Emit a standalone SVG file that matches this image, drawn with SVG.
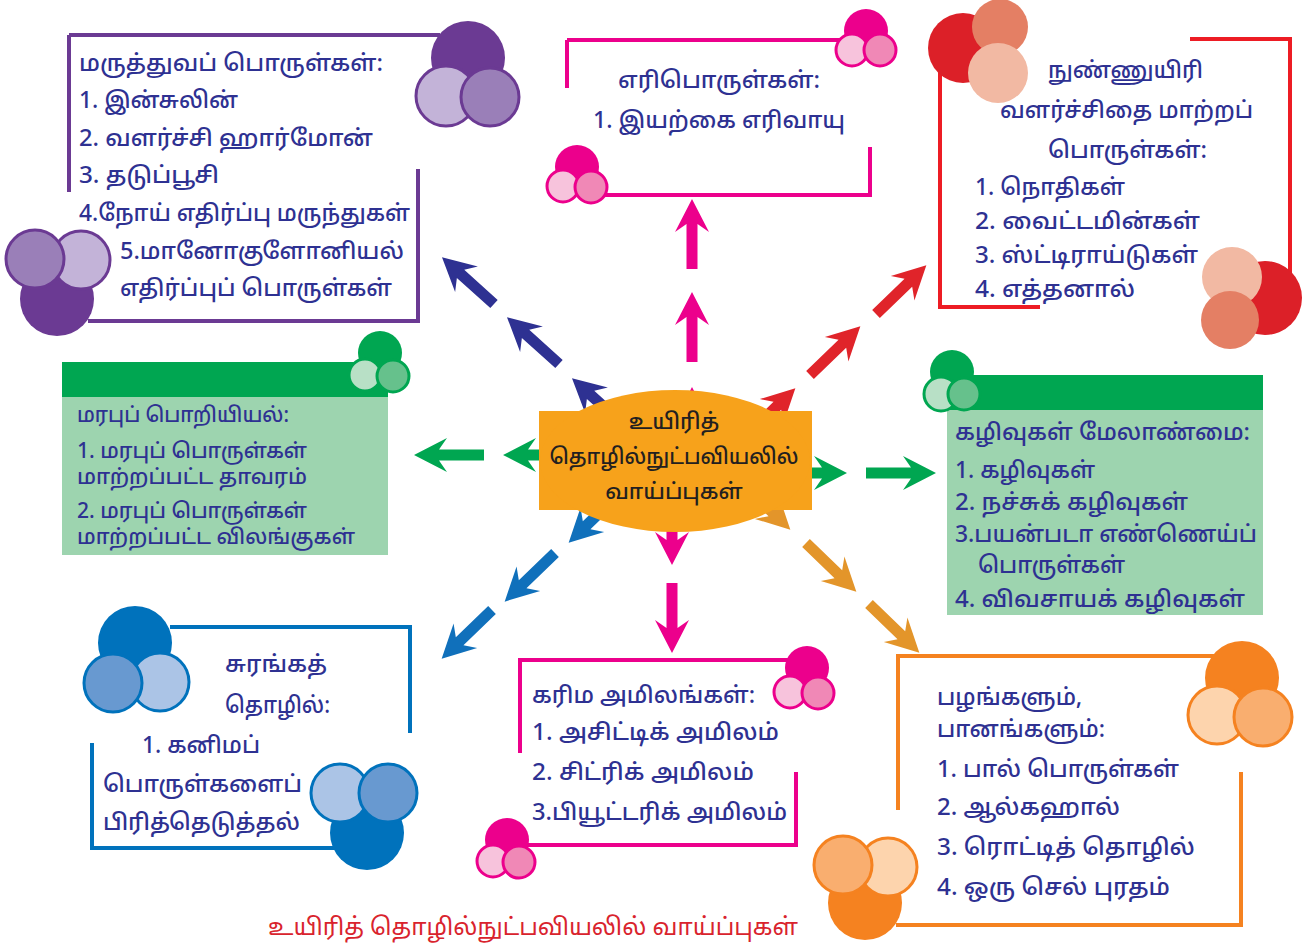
<svg xmlns="http://www.w3.org/2000/svg" width="1314" height="945" viewBox="0 0 1314 945">
<defs>
<style>
.t{font-family:"Noto Sans Tamil","Lohit Tamil","Noto Sans","DejaVu Sans",sans-serif;font-size:23px;font-weight:500;fill:#2e3192;}
.s{font-size:21px;}
.c{font-family:"Noto Sans Tamil","Lohit Tamil","Noto Sans","DejaVu Sans",sans-serif;font-size:22px;font-weight:500;fill:#231f20;text-anchor:middle;}
.cap{font-family:"Noto Sans Tamil","Lohit Tamil","Noto Sans","DejaVu Sans",sans-serif;font-size:24px;fill:#d9232d;}
.fr{fill:none;stroke-width:4;stroke-linecap:butt;}
.pu{stroke:#6b3a93}.pk{stroke:#ec008c}.rd{stroke:#ed1c24}.bl{stroke:#0072bc}.or{stroke:#f58220}
.cs{stroke-width:3}
</style>
<path id="arr" d="M0,-5.5 H45 L37,-17 L70,0 L37,17 L45,5.5 H0 Z"/>
</defs>
<rect width="1314" height="945" fill="#ffffff"/>

<g id="connectors">
<g fill="#ec008c">
<use href="#arr" transform="translate(692,269) rotate(-90)"/>
<use href="#arr" transform="translate(692,362) rotate(-90)"/>
<use href="#arr" transform="translate(692,457) rotate(-90)"/>
<use href="#arr" transform="translate(672,495) rotate(90)"/>
<use href="#arr" transform="translate(672,583) rotate(90)"/>
</g>
<g fill="#00a651">
<use href="#arr" transform="translate(484,455) rotate(180)"/>
<use href="#arr" transform="translate(573,455) rotate(180)"/>
<use href="#arr" transform="translate(777,473)"/>
<use href="#arr" transform="translate(866,473)"/>
</g>
<g fill="#2e3192">
<use href="#arr" transform="translate(494,304) rotate(-138)"/>
<use href="#arr" transform="translate(559,364) rotate(-138)"/>
<use href="#arr" transform="translate(624,425) rotate(-138)"/>
</g>
<g fill="#e0242a">
<use href="#arr" transform="translate(876,314) rotate(-44)"/>
<use href="#arr" transform="translate(810,375) rotate(-44)"/>
<use href="#arr" transform="translate(745,437) rotate(-44)"/>
</g>
<g fill="#1070bb">
<use href="#arr" transform="translate(619,494) rotate(136)"/>
<use href="#arr" transform="translate(555,553) rotate(136)"/>
<use href="#arr" transform="translate(492,610) rotate(136)"/>
</g>
<g fill="#e3952a">
<use href="#arr" transform="translate(740,481) rotate(44)"/>
<use href="#arr" transform="translate(806,543) rotate(44)"/>
<use href="#arr" transform="translate(869,604) rotate(44)"/>
</g>
</g>

<g id="center">
<rect x="539" y="411" width="273" height="99" fill="#f7a21b"/>
<ellipse cx="675" cy="461" rx="135" ry="71" fill="#f7a21b"/>
<text class="c" x="674" y="429">உயிரித்</text>
<text class="c" x="674" y="464" textLength="249" lengthAdjust="spacingAndGlyphs">தொழில்நுட்பவியலில்</text>
<text class="c" x="674" y="499">வாய்ப்புகள்</text>
</g>

<g id="medical">
<path class="fr pu" d="M69,35 H440 M69,35 V192 M418,169 V321 M88,321 H420"/>
<circle cx="468" cy="58" r="37" fill="#6b3a93"/>
<circle class="cs" cx="446" cy="96" r="30" fill="#c3b3d8" stroke="#6b3a93"/>
<circle class="cs" cx="490" cy="97" r="29" fill="#9a7fb8" stroke="#6b3a93"/>
<circle cx="57" cy="299" r="37" fill="#6b3a93"/>
<circle class="cs" cx="81" cy="260" r="29" fill="#c3b3d8" stroke="#6b3a93"/>
<circle class="cs" cx="35" cy="259" r="29" fill="#9a7fb8" stroke="#6b3a93"/>
<text class="t" x="79" y="71" textLength="304" lengthAdjust="spacingAndGlyphs">மருத்துவப் பொருள்கள்:</text>
<text class="t" x="79" y="108" textLength="159" lengthAdjust="spacingAndGlyphs">1. இன்சுலின்</text>
<text class="t" x="79" y="146" textLength="294" lengthAdjust="spacingAndGlyphs">2. வளர்ச்சி ஹார்மோன்</text>
<text class="t" x="79" y="183" textLength="140" lengthAdjust="spacingAndGlyphs">3. தடுப்பூசி</text>
<text class="t" x="79" y="221" textLength="331" lengthAdjust="spacingAndGlyphs">4.நோய் எதிர்ப்பு மருந்துகள்</text>
<text class="t" x="120" y="259" textLength="284" lengthAdjust="spacingAndGlyphs">5.மானோகுளோனியல்</text>
<text class="t" x="120" y="296" textLength="272" lengthAdjust="spacingAndGlyphs">எதிர்ப்புப் பொருள்கள்</text>
</g>

<g id="fuels">
<path class="fr pk" d="M567,40 H845 M567,40 V88 M870,147 V195 M590,195 H872"/>
<circle cx="866" cy="31" r="22" fill="#ec008c"/>
<circle class="cs" cx="852" cy="50" r="16" fill="#f7c3dc" stroke="#ec008c"/>
<circle class="cs" cx="880" cy="50" r="16" fill="#f088b6" stroke="#ec008c"/>
<circle cx="577" cy="167" r="22" fill="#ec008c"/>
<circle class="cs" cx="563" cy="186" r="16" fill="#f7c3dc" stroke="#ec008c"/>
<circle class="cs" cx="591" cy="187" r="16" fill="#f088b6" stroke="#ec008c"/>
<text class="t" x="618" y="88" textLength="202" lengthAdjust="spacingAndGlyphs">எரிபொருள்கள்:</text>
<text class="t" x="593" y="128" textLength="252" lengthAdjust="spacingAndGlyphs">1. இயற்கை எரிவாயு</text>
</g>

<g id="microbial">
<path class="fr rd" d="M1190,39 H1290 M1290,37 V282 M940,67 V309 M938,307 H1040"/>
<circle cx="963" cy="48" r="35" fill="#dc2028"/>
<circle cx="1000" cy="27" r="28" fill="#e47f64"/>
<circle cx="998" cy="73" r="30" fill="#f2b9a3"/>
<circle cx="1265" cy="298" r="37" fill="#dc2028"/>
<circle cx="1232" cy="277" r="30" fill="#f2b9a3"/>
<circle cx="1230" cy="320" r="29" fill="#e47f64"/>
<text class="t" x="1048" y="78" textLength="155" lengthAdjust="spacingAndGlyphs">நுண்ணுயிரி</text>
<text class="t" x="1000" y="118" textLength="253" lengthAdjust="spacingAndGlyphs">வளர்ச்சிதை மாற்றப்</text>
<text class="t" x="1048" y="158" textLength="159" lengthAdjust="spacingAndGlyphs">பொருள்கள்:</text>
<text class="t" x="975" y="195" textLength="150" lengthAdjust="spacingAndGlyphs">1. நொதிகள்</text>
<text class="t" x="975" y="229" textLength="225" lengthAdjust="spacingAndGlyphs">2. வைட்டமின்கள்</text>
<text class="t" x="975" y="263" textLength="223" lengthAdjust="spacingAndGlyphs">3. ஸ்ட்டிராய்டுகள்</text>
<text class="t" x="975" y="297" textLength="160" lengthAdjust="spacingAndGlyphs">4. எத்தனால்</text>
</g>

<g id="genetic">
<rect x="62" y="397" width="326" height="158" fill="#9dd4af"/>
<rect x="62" y="362" width="326" height="35" fill="#00a651"/>
<circle cx="380" cy="353" r="22" fill="#00a651"/>
<circle class="cs" cx="365" cy="375" r="16" fill="#b8e0c6" stroke="#00a651"/>
<circle class="cs" cx="393" cy="376" r="16" fill="#66c18c" stroke="#00a651"/>
<text class="t s" x="77" y="422" textLength="212" lengthAdjust="spacingAndGlyphs">மரபுப் பொறியியல்:</text>
<text class="t s" x="77" y="458" textLength="230" lengthAdjust="spacingAndGlyphs">1. மரபுப் பொருள்கள்</text>
<text class="t s" x="77" y="484" textLength="230" lengthAdjust="spacingAndGlyphs">மாற்றப்பட்ட தாவரம்</text>
<text class="t s" x="77" y="518" textLength="230" lengthAdjust="spacingAndGlyphs">2. மரபுப் பொருள்கள்</text>
<text class="t s" x="77" y="544" textLength="278" lengthAdjust="spacingAndGlyphs">மாற்றப்பட்ட விலங்குகள்</text>
</g>

<g id="waste">
<rect x="947" y="410" width="316" height="205" fill="#9dd4af"/>
<rect x="947" y="375" width="316" height="35" fill="#00a651"/>
<circle cx="952" cy="372" r="22" fill="#00a651"/>
<circle class="cs" cx="941" cy="394" r="17" fill="#b8e0c6" stroke="#00a651"/>
<circle class="cs" cx="964" cy="394" r="16" fill="#66c18c" stroke="#00a651"/>
<text class="t" x="955" y="440" textLength="295" lengthAdjust="spacingAndGlyphs">கழிவுகள் மேலாண்மை:</text>
<text class="t" x="955" y="478" textLength="140" lengthAdjust="spacingAndGlyphs">1. கழிவுகள்</text>
<text class="t" x="955" y="510" textLength="233" lengthAdjust="spacingAndGlyphs">2. நச்சுக் கழிவுகள்</text>
<text class="t" x="955" y="542" textLength="302" lengthAdjust="spacingAndGlyphs">3.பயன்படா எண்ணெய்ப்</text>
<text class="t" x="978" y="573" textLength="147" lengthAdjust="spacingAndGlyphs">பொருள்கள்</text>
<text class="t" x="955" y="607" textLength="290" lengthAdjust="spacingAndGlyphs">4. விவசாயக் கழிவுகள்</text>
</g>

<g id="mining">
<path class="fr bl" d="M170,627 H412 M410,627 V733 M92,743 V850 M90,848 H337"/>
<circle cx="135" cy="643" r="37" fill="#0072bc"/>
<circle class="cs" cx="160" cy="682" r="29" fill="#abc4e6" stroke="#0072bc"/>
<circle class="cs" cx="113" cy="683" r="29" fill="#6899d0" stroke="#0072bc"/>
<circle cx="367" cy="833" r="37" fill="#0072bc"/>
<circle class="cs" cx="340" cy="793" r="29" fill="#abc4e6" stroke="#0072bc"/>
<circle class="cs" cx="388" cy="793" r="29" fill="#6899d0" stroke="#0072bc"/>
<text class="t" x="225" y="672" textLength="102" lengthAdjust="spacingAndGlyphs">சுரங்கத்</text>
<text class="t" x="225" y="713" textLength="105" lengthAdjust="spacingAndGlyphs">தொழில்:</text>
<text class="t" x="142" y="753" textLength="118" lengthAdjust="spacingAndGlyphs">1. கனிமப்</text>
<text class="t" x="103" y="792" textLength="199" lengthAdjust="spacingAndGlyphs">பொருள்களைப்</text>
<text class="t" x="103" y="830" textLength="197" lengthAdjust="spacingAndGlyphs">பிரித்தெடுத்தல்</text>
</g>

<g id="acids">
<path class="fr pk" d="M520,660 H800 M520,658 V753 M796,772 V847 M525,845 H798"/>
<circle cx="807" cy="668" r="22" fill="#ec008c"/>
<circle class="cs" cx="790" cy="692" r="16" fill="#f7c3dc" stroke="#ec008c"/>
<circle class="cs" cx="818" cy="693" r="16" fill="#f088b6" stroke="#ec008c"/>
<circle cx="507" cy="840" r="22" fill="#ec008c"/>
<circle class="cs" cx="493" cy="861" r="16" fill="#f7c3dc" stroke="#ec008c"/>
<circle class="cs" cx="519" cy="862" r="16" fill="#f088b6" stroke="#ec008c"/>
<text class="t" x="532" y="703" textLength="223" lengthAdjust="spacingAndGlyphs">கரிம அமிலங்கள்:</text>
<text class="t" x="532" y="740" textLength="247" lengthAdjust="spacingAndGlyphs">1. அசிட்டிக் அமிலம்</text>
<text class="t" x="532" y="780" textLength="222" lengthAdjust="spacingAndGlyphs">2. சிட்ரிக் அமிலம்</text>
<text class="t" x="532" y="820" textLength="255" lengthAdjust="spacingAndGlyphs">3.பியூட்டரிக் அமிலம்</text>
</g>

<g id="fruits">
<path class="fr or" d="M898,656 H1215 M898,654 V810 M1241,772 V927 M896,925 H1243"/>
<circle cx="1242" cy="678" r="37" fill="#f58220"/>
<circle class="cs" cx="1217" cy="715" r="29" fill="#fdd4ad" stroke="#f58220"/>
<circle class="cs" cx="1263" cy="717" r="29" fill="#f9ae6f" stroke="#f58220"/>
<circle cx="865" cy="903" r="37" fill="#f58220"/>
<circle class="cs" cx="888" cy="867" r="29" fill="#fdd4ad" stroke="#f58220"/>
<circle class="cs" cx="843" cy="865" r="29" fill="#f9ae6f" stroke="#f58220"/>
<text class="t" x="937" y="705" textLength="145" lengthAdjust="spacingAndGlyphs">பழங்களும்,</text>
<text class="t" x="937" y="737" textLength="168" lengthAdjust="spacingAndGlyphs">பானங்களும்:</text>
<text class="t" x="937" y="777" textLength="242" lengthAdjust="spacingAndGlyphs">1. பால் பொருள்கள்</text>
<text class="t" x="937" y="815" textLength="183" lengthAdjust="spacingAndGlyphs">2. ஆல்கஹால்</text>
<text class="t" x="937" y="855" textLength="258" lengthAdjust="spacingAndGlyphs">3. ரொட்டித் தொழில்</text>
<text class="t" x="937" y="895" textLength="233" lengthAdjust="spacingAndGlyphs">4. ஒரு செல் புரதம்</text>
</g>

<g id="caption">
<text class="cap" x="268" y="935" textLength="530" lengthAdjust="spacingAndGlyphs">உயிரித் தொழில்நுட்பவியலில் வாய்ப்புகள்</text>
</g>
</svg>
